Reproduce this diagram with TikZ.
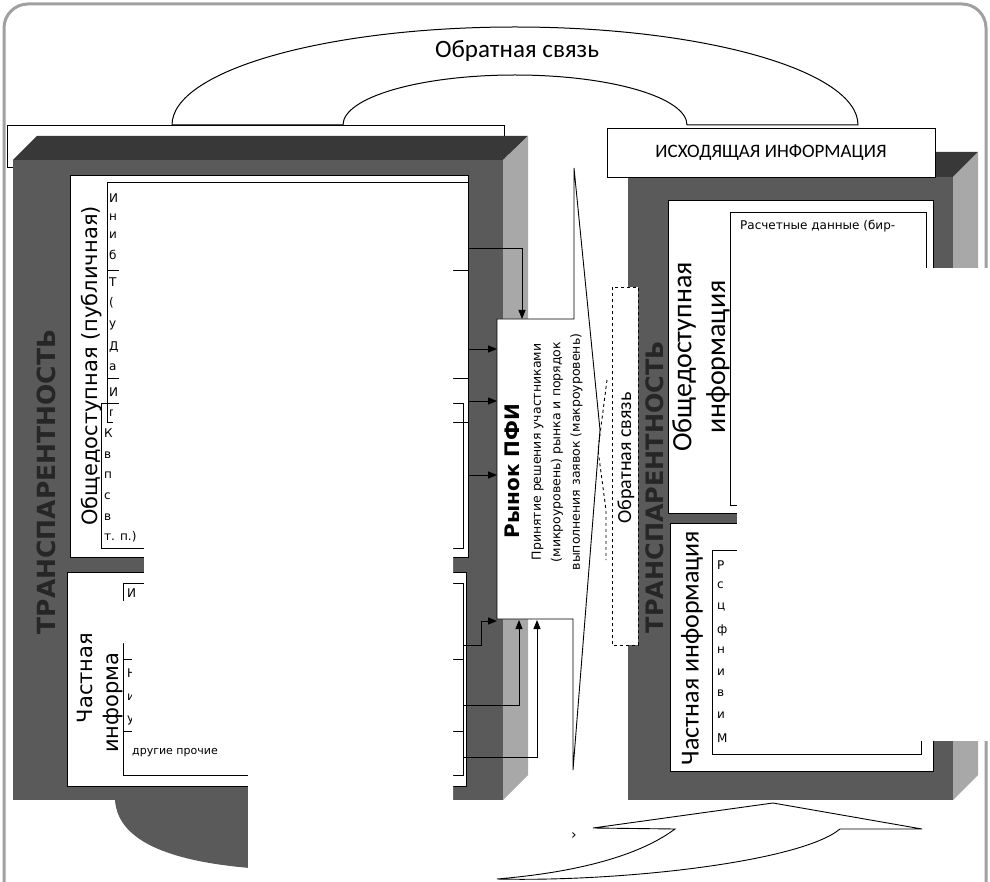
\documentclass[tikz,border=0pt]{standalone}
\usepackage{fontspec}
\setmainfont{DejaVu Sans}
\newfontfamily\calfont{Carlito}
\usetikzlibrary{arrows.meta}
\definecolor{frontgray}{HTML}{5A5A5A}
\definecolor{topgray}{HTML}{383838}
\definecolor{sidegray}{HTML}{A8A8A8}
\definecolor{framegray}{HTML}{A0A0A0}
\definecolor{ink}{HTML}{262626}
\newcommand{\fs}[1]{\fontsize{#1}{1.2\dimexpr#1pt\relax}\selectfont}

\begin{document}
\begin{tikzpicture}[x=1pt, y=-1pt,
    panel/.style={draw=black, fill=white, line width=0.9pt},
    txtbox/.style={draw=black, line width=0.8pt},
    mask/.style={fill=white, draw=none},
    arr/.style={-{Triangle[length=9pt,width=7pt]}, line width=0.9pt},
    lbl/.style={rotate=90, inner sep=0pt},
    ltr/.style={font=\fs{12}, inner sep=0pt, anchor=west},
    trans/.style={rotate=90, inner sep=0pt, text=ink, font=\bfseries\fs{#1}}]
  \useasboundingbox (0,0) rectangle (990,882);
  % outer frame
  \draw[framegray, line width=3pt, rounded corners=24pt] (4,910) -- (4,4) -- (986,4) -- (986,910);
  % feedback band on top
  \draw[line width=1pt, fill=white] (172,125) arc[start angle=180, end angle=360, x radius=343, y radius=98]
    -- (687,125) arc[start angle=360, end angle=180, x radius=172, y radius=50] -- cycle;
  \node[font=\calfont\fs{25}] (fbtop) at (517,51) {Обратная связь};
  % left block
  \draw[fill=white, line width=0.9pt] (7,125) rectangle (504,167);
  \fill[frontgray] (13,160) rectangle (503,800);
  \fill[topgray] (13,160) -- (37,136) -- (528,136) -- (503,160) -- cycle;
  \fill[sidegray] (503,160) -- (528,136) -- (528,775) -- (503,800) -- cycle;
  \node[trans=25] (transL) at (46,482) {ТРАНСПАРЕНТНОСТЬ};
  \draw[panel] (70,175) rectangle (468,557);
  \draw[panel] (67,572) rectangle (466,786);
  \node[lbl, font=\fs{21}] (pubL) at (92,366) {Общедоступная (публичная)};
  \node[lbl, font=\fs{21}] (privL) at (85,678) {Частная};
  \node[lbl, font=\fs{21}, anchor=west] (privL2) at (113,753) {информа};
  \draw[txtbox] (107,182) rectangle (468,270);
  \draw[txtbox] (107,270) rectangle (468,378);
  \draw[txtbox] (107,378) rectangle (468,422);
  \draw[txtbox] (101,403) rectangle (463,548);
  \draw[txtbox] (123,583) rectangle (463,775);
  \draw[txtbox] (123,659) -- (463,659) (123,731) -- (463,731);
  \foreach \t/\y [count=\i] in {И/198,н/217,и/235,б/255,Т/282,{(}/303,у/325,Д/347,а/367,И/392,п/413}
    \node[ltr] (pa\i) at (109,\y) {\t};
  \foreach \t/\y [count=\i] in {К/433,в/455,п/475,с/496,в/517,{т. п.)}/537}
    \node[ltr] (pb\i) at (104,\y) {\t};
  \foreach \t/\y [count=\i] in {И/593,Н/673,и/697,у/720}
    \node[ltr] (pc\i) at (127,\y) {\t};
  \node[ltr, font=\fs{11}] (pc5) at (132,753) {другие прочие};
  % market box
  \draw[fill=white, line width=0.9pt] (497,319) -- (574,319) -- (574,168) -- (600,430) -- (573,770) -- (573,619) -- (497,619) -- cycle;
  \node[lbl, font=\bfseries\fs{20}] (rynok) at (512,471) {Рынок ПФИ};
  \node[lbl, font=\fontsize{12.5}{19.5}\selectfont, align=center] (rynokTxt) at (557,452)
    {Принятие решения участниками\\(микроуровень) рынка и порядок\\выполнения заявок (макроуровень)};
  % connectors into the market
  \coordinate (s1) at (468,248); \coordinate (e1) at (522,319);
  \coordinate (s2) at (468,349); \coordinate (e2) at (497,349);
  \coordinate (s3) at (468,401); \coordinate (e3) at (497,401);
  \coordinate (s4) at (468,475); \coordinate (e4) at (497,475);
  \coordinate (s5) at (463,645); \coordinate (e5) at (497,621);
  \coordinate (s6) at (463,705); \coordinate (e6) at (519,620);
  \coordinate (s7) at (463,757); \coordinate (e7) at (537,620);
  \draw[arr] (s1) -| (e1);
  \draw[arr] (s2) -- (e2);
  \draw[arr] (s3) -- (e3);
  \draw[arr] (s4) -- (e4);
  \draw[arr] (s5) -- ++(18,0) |- (e5);
  \draw[arr] (s6) -| (e6);
  \draw[arr] (s7) -| (e7);
  % right block
  \fill[frontgray] (628,177) rectangle (953,800);
  \fill[topgray] (628,177) -- (653,152) -- (978,152) -- (953,177) -- cycle;
  \fill[sidegray] (953,177) -- (978,152) -- (978,775) -- (953,800) -- cycle;
  \node[draw, fill=white, line width=0.9pt, minimum width=328, minimum height=49, font=\calfont\fs{19}] (outinfo) at (771,152.5) {ИСХОДЯЩАЯ ИНФОРМАЦИЯ};
  \node[trans=24] (transR) at (655,487) {ТРАНСПАРЕНТНОСТЬ};
  \draw[panel] (668,200) rectangle (933,513);
  \draw[panel] (670,523) rectangle (933,771);
  \draw[txtbox] (730,212) rectangle (926,505);
  \draw[txtbox] (712,550) rectangle (921,754);
  \node[lbl, font=\calfont\fs{28}, align=center] (pubR) at (701,357) {Общедоступная\\информация};
  \node[lbl, font=\calfont\fs{26}] (privR) at (692,648) {Частная информация};
  \node[ltr, font=\fs{12}] (rc0) at (740,226) {Расчетные данные (бир-};
  \foreach \t/\y [count=\i] in {Р/565,с/585,ц/607,ф/630,н/650,и/672,в/693,и/715,М/738}
    \node[ltr] (rc\i) at (717,\y) {\t};
  % dashed feedback
  \draw[dashed, line width=0.9pt] (607,380) -- (598,450) -- (606,510) -- (606,560);
  \draw[dashed, line width=0.9pt, fill=white] (612,287) rectangle (638,645);
  \node[lbl, font=\calfont\fs{20}] (fbmid) at (626,458) {Обратная связь};
  % bottom arrow
  \fill[frontgray] (115,800) .. controls (118,845) and (180,862) .. (250,868) -- (250,800) -- cycle;
  \draw[line width=0.9pt, fill=white] (497,879) .. controls (580,872) and (640,855) .. (675,829) -- (593,828) -- (773,803)
    -- (922,829) -- (840,829) .. controls (800,862) and (620,882) .. (497,879) -- cycle;
  \node[font=\fs{14}] (tick) at (574,836) {›};
  % blanked regions
  \fill[mask] (119,195) -- (453,195) -- (453,886) -- (248,886) -- (248,747) -- (132,747) -- (132,643) -- (103,643)
    -- (103,601) -- (144,601) -- (144,522) -- (113,522) -- (113,405) -- (119,405) -- cycle;
  \fill[mask] (737,268) rectangle (992,741);
\end{tikzpicture}
\end{document}
